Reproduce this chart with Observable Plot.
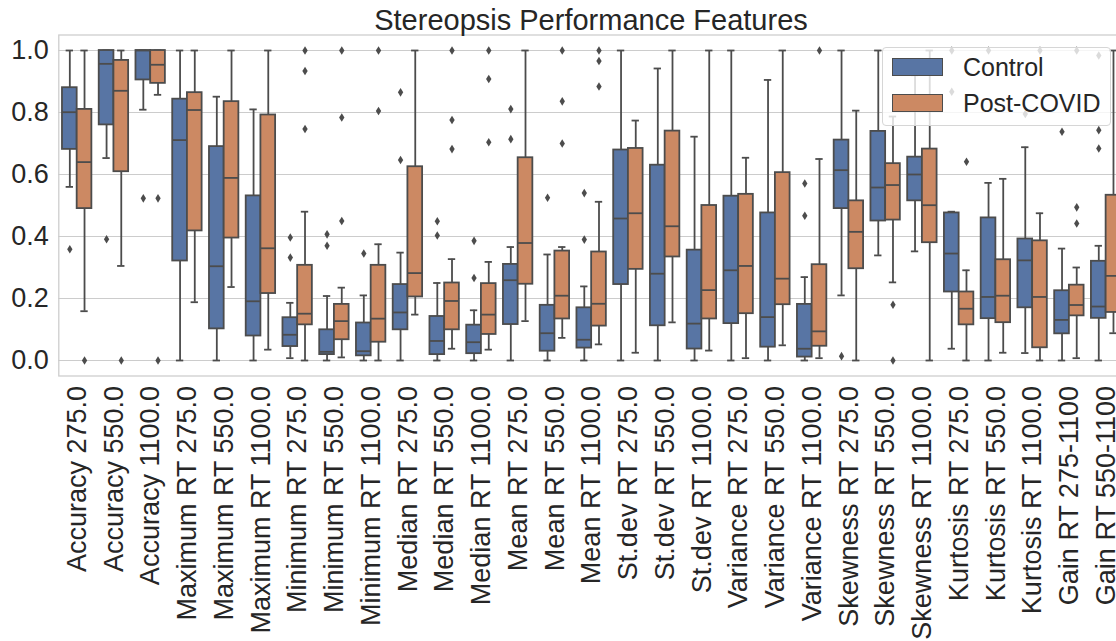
<!DOCTYPE html>
<html>
<head>
<meta charset="utf-8">
<script src="https://cdn.jsdelivr.net/npm/d3@7"></script>
<script src="https://cdn.jsdelivr.net/npm/@observablehq/plot@0.6"></script>
<style>
  html, body { margin: 0; padding: 0; background: #fff; overflow: hidden; }
  #wrap { position: relative; width: 1124px; height: 641px; font-family: "Liberation Sans", Arial, sans-serif; color: #262626; }
  #title { position: absolute; left: 58px; width: 1066px; top: 3px; text-align: center; font-size: 29px; line-height: 34px; white-space: nowrap; z-index: 2; }
  #legend { position: absolute; left: 882px; top: 47px; width: 229px; height: 79px; border: 1px solid #d6d6d6; border-radius: 4px; background: rgba(255,255,255,0.8); z-index: 3; box-sizing: border-box; }
  .item { position: absolute; left: 9px; height: 18px; display: flex; align-items: center; }
  .sw { width: 51px; height: 18px; border: 1.5px solid #4c4c4c; box-sizing: border-box; }
  .lab { position: absolute; left: 80px; font-size: 25px; line-height: 25px; white-space: nowrap; }
</style>
</head>
<body>
<div id="wrap">
  <div id="title">Stereopsis Performance Features</div>
  <div id="chart"></div>
  <div id="legend"></div>
</div>
<script>
const categories = [
  "Accuracy 275.0", "Accuracy 550.0", "Accuracy 1100.0",
  "Maximum RT 275.0", "Maximum RT 550.0", "Maximum RT 1100.0",
  "Minimum RT 275.0", "Minimum RT 550.0", "Minimum RT 1100.0",
  "Median RT 275.0", "Median RT 550.0", "Median RT 1100.0",
  "Mean RT 275.0", "Mean RT 550.0", "Mean RT 1100.0",
  "St.dev RT 275.0", "St.dev RT 550.0", "St.dev RT 1100.0",
  "Variance RT 275.0", "Variance RT 550.0", "Variance RT 1100.0",
  "Skewness RT 275.0", "Skewness RT 550.0", "Skewness RT 1100.0",
  "Kurtosis RT 275.0", "Kurtosis RT 550.0", "Kurtosis RT 1100.0",
  "Gain RT 275-1100", "Gain RT 550-1100"
];
const groups = ["Control", "Post-COVID"];
const groupColors = ["#5875A4", "#CC8963"];
const yTicks = [0, 0.2, 0.4, 0.6, 0.8, 1.0];

// Control box statistics (whisker low, Q1, median, Q3, whisker high)
const controlLo  = [0.560, 0.653, 0.809, 0, 0, 0, 0.0075, 0, 0, 0, 0, 0, 0, 0, 0, 0, 0, 0, 0, 0, 0, 0.210, 0.339, 0.352, 0.038, 0, 0.024, 0, 0];
const controlQ1  = [0.681, 0.760, 0.905, 0.321, 0.102, 0.079, 0.045, 0.019, 0.015, 0.099, 0.019, 0.022, 0.116, 0.030, 0.040, 0.245, 0.112, 0.037, 0.119, 0.043, 0.011, 0.490, 0.450, 0.515, 0.221, 0.135, 0.170, 0.086, 0.136];
const controlMed = [0.801, 0.957, 1.000, 0.711, 0.304, 0.191, 0.083, 0.028, 0.030, 0.155, 0.063, 0.059, 0.259, 0.088, 0.067, 0.458, 0.280, 0.119, 0.291, 0.140, 0.038, 0.614, 0.558, 0.600, 0.345, 0.205, 0.323, 0.131, 0.174];
const controlQ3  = [0.880, 1.000, 1.000, 0.843, 0.690, 0.531, 0.138, 0.099, 0.121, 0.245, 0.142, 0.114, 0.310, 0.178, 0.170, 0.679, 0.630, 0.356, 0.530, 0.476, 0.181, 0.711, 0.739, 0.656, 0.476, 0.460, 0.392, 0.225, 0.320];
const controlHi  = [1.000, 1.000, 1.000, 1.000, 0.851, 0.810, 0.186, 0.208, 0.210, 0.348, 0.250, 0.162, 0.366, 0.342, 0.239, 1.000, 0.942, 0.722, 1.000, 0.905, 0.269, 1.000, 1.000, 0.920, 0.480, 0.573, 0.688, 0.361, 0.370];
// Control outliers: [category index, value]
const controlOutliers = [
  [0, 0.359], [1, 0.391], [2, 0.523], [6, 0.397], [6, 0.332], [7, 0.407], [7, 0.370], [8, 0.345],
  [9, 0.865], [9, 0.647], [10, 0.449], [10, 0.403], [11, 0.386], [11, 0.266], [12, 0.811], [12, 0.714],
  [13, 0.525], [14, 0.540], [14, 0.390], [20, 0.571], [20, 0.467], [21, 0.014], [24, 1.000], [24, 0.867],
  [25, 1.000], [26, 0.795], [27, 0.738], [28, 0.984], [28, 0.743], [28, 0.684]
];

// Post-COVID box statistics
const covidLo  = [0.159, 0.305, 0.857, 0.188, 0.237, 0.035, 0, 0.010, 0, 0.148, 0.038, 0.035, 0.127, 0.073, 0.052, 0.025, 0.123, 0.032, 0.0075, 0.049, 0.0075, 0, 0.252, 0, 0, 0.025, 0, 0.0075, 0.088];
const covidQ1  = [0.490, 0.609, 0.894, 0.418, 0.395, 0.216, 0.115, 0.067, 0.059, 0.205, 0.099, 0.084, 0.246, 0.134, 0.111, 0.294, 0.334, 0.134, 0.151, 0.180, 0.046, 0.296, 0.453, 0.380, 0.115, 0.122, 0.041, 0.144, 0.155];
const covidMed = [0.640, 0.870, 0.954, 0.808, 0.589, 0.362, 0.151, 0.127, 0.135, 0.282, 0.192, 0.148, 0.379, 0.209, 0.183, 0.475, 0.433, 0.227, 0.305, 0.264, 0.094, 0.415, 0.566, 0.501, 0.167, 0.209, 0.205, 0.179, 0.273];
const covidQ3  = [0.810, 0.968, 1.000, 0.864, 0.835, 0.792, 0.307, 0.181, 0.307, 0.625, 0.250, 0.248, 0.654, 0.353, 0.350, 0.684, 0.740, 0.500, 0.536, 0.606, 0.309, 0.515, 0.635, 0.682, 0.221, 0.325, 0.386, 0.243, 0.533];
const covidHi  = [1.000, 1.000, 1.000, 1.000, 1.000, 1.000, 0.480, 0.235, 0.375, 1.000, 0.327, 0.318, 1.000, 0.366, 0.512, 0.774, 1.000, 1.000, 0.654, 1.000, 0.650, 0.806, 0.787, 1.000, 0.291, 0.586, 0.475, 0.300, 1.000];
const covidOutliers = [
  [0, 0], [1, 0], [2, 0.523], [2, 0], [6, 1.000], [6, 0.934], [6, 0.747], [7, 1.000], [7, 0.784], [7, 0.450],
  [8, 1.000], [8, 0.805], [10, 1.000], [10, 0.776], [10, 0.682], [11, 1.000], [11, 0.908], [11, 0.704],
  [13, 1.000], [13, 0.836], [13, 0.700], [14, 1.000], [14, 0.966], [14, 0.884], [20, 1.000],
  [22, 0.180], [22, 0], [24, 0.641], [26, 1.000], [27, 1.000], [27, 0.494], [27, 0.442]
];

// ---- build tables ----
const boxWidth = 0.4; // seaborn dodge width per hue
const stats = [
  {group: groups[0], lo: controlLo, q1: controlQ1, med: controlMed, q3: controlQ3, hi: controlHi, out: controlOutliers},
  {group: groups[1], lo: covidLo, q1: covidQ1, med: covidMed, q3: covidQ3, hi: covidHi, out: covidOutliers}
];
const boxes = [];
const fliers = [];
stats.forEach((s, gi) => {
  const off = -0.4 + gi * boxWidth;
  categories.forEach((cat, i) => {
    const x1 = i + off, x2 = x1 + boxWidth;
    boxes.push({cat, group: s.group, x1, x2, c: (x1 + x2) / 2,
      lo: s.lo[i], q1: s.q1[i], med: s.med[i], q3: s.q3[i], hi: s.hi[i]});
  });
  s.out.forEach(([i, v]) => fliers.push({group: s.group, c: i + off + boxWidth / 2, v}));
});

const gray = "#4c4c4c";
const lw = 1.8;
const thinDiamond = {
  draw(context, size) {
    const r = Math.sqrt(size / Math.PI);
    context.moveTo(0, -r);
    context.lineTo(r * 0.62, 0);
    context.lineTo(0, r);
    context.lineTo(-r * 0.62, 0);
    context.closePath();
  }
};

const chart = Plot.plot({
  width: 1124,
  height: 641,
  marginLeft: 58.3,
  marginRight: 0,
  marginTop: 34.5,
  marginBottom: 265.5,
  style: {fontFamily: '"Liberation Sans", Arial, sans-serif', fontSize: "27px", color: "#262626", background: "transparent", overflow: "visible"},
  x: {domain: [-0.5, categories.length - 0.5], ticks: d3.range(categories.length), tickFormat: i => categories[i],
      tickRotate: -90, tickSize: 0, tickPadding: 10, label: null},
  y: {domain: [-0.05, 1.05], ticks: yTicks, tickFormat: d => d.toFixed(1), tickSize: 0, tickPadding: 10, label: null},
  color: {domain: groups, range: groupColors},
  marks: [
    Plot.gridY(yTicks, {stroke: "#cccccc", strokeOpacity: 1, strokeWidth: 1}),
    Plot.frame({stroke: "#cccccc", strokeWidth: 1.25}),
    Plot.ruleX(boxes, {x: "c", y1: "lo", y2: "q1", stroke: gray, strokeWidth: lw}),
    Plot.ruleX(boxes, {x: "c", y1: "q3", y2: "hi", stroke: gray, strokeWidth: lw}),
    Plot.ruleY(boxes, {y: "lo", x1: d => d.c - boxWidth / 4, x2: d => d.c + boxWidth / 4, stroke: gray, strokeWidth: lw}),
    Plot.ruleY(boxes, {y: "hi", x1: d => d.c - boxWidth / 4, x2: d => d.c + boxWidth / 4, stroke: gray, strokeWidth: lw}),
    Plot.rect(boxes, {x1: "x1", x2: "x2", y1: "q1", y2: "q3", fill: "group", stroke: gray, strokeWidth: lw}),
    Plot.ruleY(boxes, {y: "med", x1: "x1", x2: "x2", stroke: gray, strokeWidth: lw}),
    Plot.dot(fliers, {x: "c", y: "v", r: 4.3, symbol: thinDiamond, fill: gray, stroke: "none"})
  ]
});
document.getElementById("chart").appendChild(chart);

// legend
const legend = document.getElementById("legend");
groups.forEach((g, i) => {
  const item = document.createElement("div");
  item.className = "item";
  item.style.top = (10 + i * 36) + "px";
  const sw = document.createElement("div");
  sw.className = "sw";
  sw.style.background = groupColors[i];
  item.appendChild(sw);
  legend.appendChild(item);
  const lab = document.createElement("div");
  lab.className = "lab";
  lab.style.top = (7 + i * 36) + "px";
  lab.textContent = g;
  legend.appendChild(lab);
});
</script>
</body>
</html>
